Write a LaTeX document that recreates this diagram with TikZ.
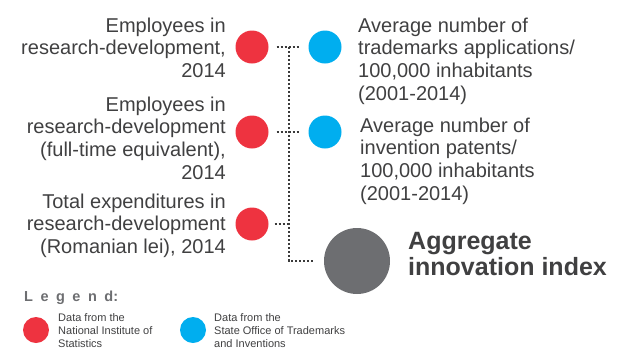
\documentclass[tikz,border=0pt]{standalone}
\usepackage{fontspec}
\setmainfont{Liberation Sans}
\definecolor{insred}{HTML}{EE3340}
\definecolor{osimblue}{HTML}{00AEEF}
\definecolor{indexgray}{HTML}{6D6E71}
\definecolor{txtgray}{HTML}{404041}
\definecolor{dotgray}{HTML}{3A3A3A}
\tikzset{
  redc/.style={circle,fill=insred,minimum size=33pt,inner sep=0},
  bluec/.style={circle,fill=osimblue,minimum size=33pt,inner sep=0},
  link/.style={draw=dotgray,line width=2.4pt,dash pattern=on 2.4pt off 1.6pt},
  lbl/.style={inner sep=0,text=txtgray,font=\fontsize{20}{22.8}\selectfont},
  lgd/.style={inner sep=0,text=txtgray,font=\fontsize{11}{13}\selectfont,align=left,anchor=north west}
}
\begin{document}
\begin{tikzpicture}[x=1pt,y=-1pt]
\useasboundingbox (0,0) rectangle (621,349);
% indicators
\node[redc] (r1) at (252,47) {};
\node[redc] (r2) at (252,132) {};
\node[redc] (r3) at (252,224) {};
\node[bluec] (b1) at (325,47) {};
\node[bluec] (b2) at (325,132) {};
\node[circle,fill=indexgray,minimum size=66pt,inner sep=0] (agg) at (357,261) {};
\node[lbl,align=right,anchor=north east] (t1) at (226,17.5)
  {Employees in\\research-development,\\2014};
\node[lbl,align=right,anchor=north east] (t2) at (226,96.5)
  {Employees in\\research-development\\(full-time equivalent),\\2014};
\node[lbl,align=right,anchor=north east] (t3) at (226,193.5)
  {Total expenditures in\\research-development\\(Romanian lei), 2014};
\node[lbl,align=left,anchor=north west] (t4) at (358,17.5)
  {Average number of\\trademarks applications/\\100,000 inhabitants\\(2001-2014)};
\node[lbl,align=left,anchor=north west] (t5) at (360,117.5)
  {Average number of\\invention patents/\\100,000 inhabitants\\(2001-2014)};
\node[inner sep=0,text=txtgray,align=left,anchor=north west,
  font=\fontsize{25}{26}\bfseries] (t6) at (408,232)
  {Aggregate\\innovation index};
% links
\coordinate (j1) at (289,47);
\draw[link] ([xshift=8pt]r1.east) -- ([xshift=-8pt]b1.west);
\draw[link] ([xshift=8pt]r2.east) -- ([xshift=-8pt]b2.west);
\draw[link] ([xshift=6pt]r3.east) -- (r3 -| j1);
\draw[link] (j1) |- ([xshift=-11pt]agg.west);
% legend
\node[inner sep=0,text=indexgray,anchor=base west,font=\fontsize{14.5}{16}\bfseries] (lg) at (24,301)
  {L\hspace{7.5pt}e\hspace{7.5pt}g\hspace{7.5pt}e\hspace{7.5pt}n\hspace{7.5pt}d:};
\node[circle,fill=insred,minimum size=26pt,inner sep=0] (lr) at (36,330) {};
\node[lgd] (lrt) at (58,313) {Data from the\\National Institute of\\Statistics};
\node[circle,fill=osimblue,minimum size=26pt,inner sep=0] (lb) at (193,330) {};
\node[lgd] (lbt) at (214,313) {Data from the\\State Office of Trademarks\\and Inventions};
\end{tikzpicture}
\end{document}
